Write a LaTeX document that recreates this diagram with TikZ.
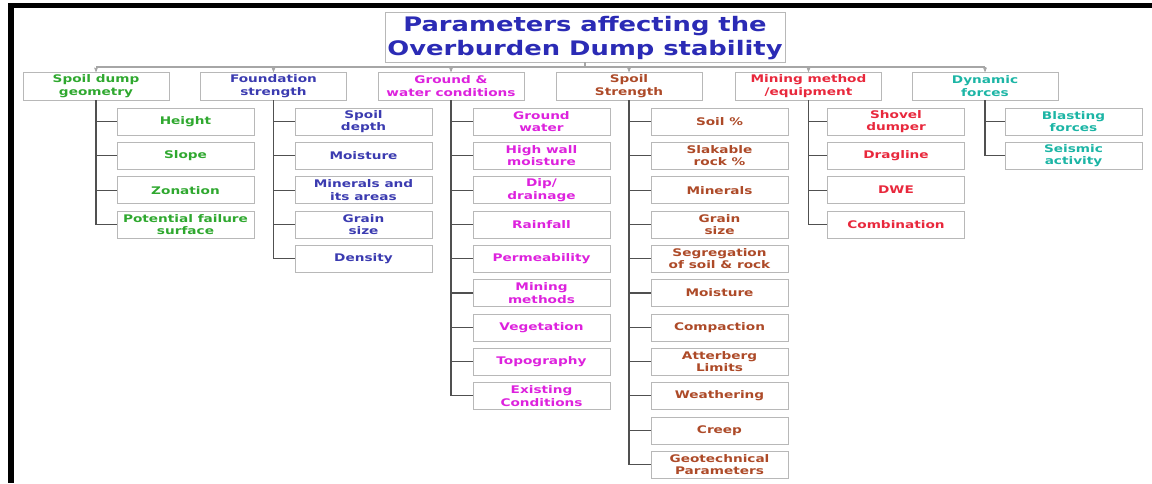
\documentclass[tikz,border=0pt]{standalone}
\usepackage{fontspec}
\usepackage{tikz}
\usetikzlibrary{arrows,positioning,calc}
\newfontfamily\dumpfont[FakeStretch=1.3]{DejaVu Sans}
\newfontfamily\headfont[FakeStretch=1.29]{DejaVu Sans}
\newcommand{\titlefont}{\headfont\bfseries\fontsize{20}{23.5}\selectfont}
\newcommand{\boxfont}{\dumpfont\bfseries\fontsize{10.5}{12.5}\selectfont}
\definecolor{boxgray}{HTML}{B8B8B8}
\definecolor{linkgray}{HTML}{505050}
\definecolor{titleblue}{HTML}{2B2BB5}
\definecolor{geomgreen}{HTML}{2FA82F}
\definecolor{foundblue}{HTML}{3B3BB0}
\definecolor{groundpink}{HTML}{DD22DD}
\definecolor{spoilbrown}{HTML}{AD4A28}
\definecolor{minered}{HTML}{E8283C}
\definecolor{dyncyan}{HTML}{1CB5A5}

\begin{document}
\begin{tikzpicture}[x=1pt, y=-1pt, >=stealth', semithick,
 toptitle/.style={draw=boxgray, thin, minimum width=400pt, minimum height=50pt, inner sep=0pt, align=center, font=\titlefont, text=titleblue},
 groupbox/.style={draw=boxgray, thin, minimum width=146pt, minimum height=28pt, inner sep=0pt, align=center, font=\boxfont},
 itembox/.style={draw=boxgray, thin, minimum width=137pt, minimum height=27pt, inner sep=0pt, align=center, font=\boxfont},
 link/.style={draw=linkgray, line width=1.1pt},
 busline/.style={draw=gray!70, line width=1.2pt}]
\useasboundingbox (0,0) rectangle (1152,483);
% frame
\fill[black] (8,3) rectangle (1152,8);
\fill[black] (8,3) rectangle (14,483);

\node[toptitle] (p) at (585,37) {\rule{0pt}{17pt}Parameters affecting the\\Overburden Dump stability};
\coordinate (bus) at (585,67);

\node[groupbox, text=geomgreen] (g1) at (96,86) {Spoil dump\\geometry};
\node[groupbox, text=foundblue] (g2) at (273.5,86) {Foundation\\strength};
\node[groupbox, text=groundpink] (g3) at (451,86) {Ground \&\\water conditions};
\node[groupbox, text=spoilbrown] (g4) at (629,86) {Spoil\\Strength};
\node[groupbox, text=minered] (g5) at (808.5,86) {Mining method\\/equipment};
\node[groupbox, text=dyncyan] (g6) at (985,86) {Dynamic\\forces};

% spoil dump geometry
\node[itembox, text=geomgreen] (g1_1) at (185.5,121.5) {Height};
\node[itembox, text=geomgreen] (g1_2) at (185.5,155.8) {Slope};
\node[itembox, text=geomgreen] (g1_3) at (185.5,190.1) {Zonation};
\node[itembox, text=geomgreen] (g1_4) at (185.5,224.4) {Potential failure\\surface};

% foundation strength
\node[itembox, text=foundblue] (g2_1) at (363.5,121.5) {Spoil\\depth};
\node[itembox, text=foundblue] (g2_2) at (363.5,155.8) {Moisture};
\node[itembox, text=foundblue] (g2_3) at (363.5,190.1) {Minerals and\\its areas};
\node[itembox, text=foundblue] (g2_4) at (363.5,224.4) {Grain\\size};
\node[itembox, text=foundblue] (g2_5) at (363.5,258.7) {Density};

% ground & water conditions
\node[itembox, text=groundpink] (g3_1) at (541.5,121.5) {Ground\\water};
\node[itembox, text=groundpink] (g3_2) at (541.5,155.8) {High wall\\moisture};
\node[itembox, text=groundpink] (g3_3) at (541.5,190.1) {Dip/\\drainage};
\node[itembox, text=groundpink] (g3_4) at (541.5,224.4) {Rainfall};
\node[itembox, text=groundpink] (g3_5) at (541.5,258.7) {Permeability};
\node[itembox, text=groundpink] (g3_6) at (541.5,293.0) {Mining\\methods};
\node[itembox, text=groundpink] (g3_7) at (541.5,327.3) {Vegetation};
\node[itembox, text=groundpink] (g3_8) at (541.5,361.6) {Topography};
\node[itembox, text=groundpink] (g3_9) at (541.5,395.9) {Existing\\Conditions};

% spoil strength
\node[itembox, text=spoilbrown] (g4_1) at (719.5,121.5) {Soil \%};
\node[itembox, text=spoilbrown] (g4_2) at (719.5,155.8) {Slakable\\rock \%};
\node[itembox, text=spoilbrown] (g4_3) at (719.5,190.1) {Minerals};
\node[itembox, text=spoilbrown] (g4_4) at (719.5,224.4) {Grain\\size};
\node[itembox, text=spoilbrown] (g4_5) at (719.5,258.7) {Segregation\\of soil \& rock};
\node[itembox, text=spoilbrown] (g4_6) at (719.5,293.0) {Moisture};
\node[itembox, text=spoilbrown] (g4_7) at (719.5,327.3) {Compaction};
\node[itembox, text=spoilbrown] (g4_8) at (719.5,361.6) {Atterberg\\Limits};
\node[itembox, text=spoilbrown] (g4_9) at (719.5,395.9) {Weathering};
\node[itembox, text=spoilbrown] (g4_10) at (719.5,430.2) {Creep};
\node[itembox, text=spoilbrown] (g4_11) at (719.5,464.5) {Geotechnical\\Parameters};

% mining method / equipment
\node[itembox, text=minered] (g5_1) at (896,121.5) {Shovel\\dumper};
\node[itembox, text=minered] (g5_2) at (896,155.8) {Dragline};
\node[itembox, text=minered] (g5_3) at (896,190.1) {DWE};
\node[itembox, text=minered] (g5_4) at (896,224.4) {Combination};

% dynamic forces
\node[itembox, text=dyncyan] (g6_1) at (1073.5,121.5) {Blasting\\forces};
\node[itembox, text=dyncyan] (g6_2) at (1073.5,155.8) {Seismic\\activity};

% bus from the title to the groups
\draw[busline] (p.south) -- (bus);
\draw[busline] (g1.north |- bus) -- (g6.north |- bus);
\draw[busline, ->, line width=0.6pt] (g1.north |- bus) -- (g1.north);
\draw[busline, ->, line width=0.6pt] (g2.north |- bus) -- (g2.north);
\draw[busline, ->, line width=0.6pt] (g3.north |- bus) -- (g3.north);
\draw[busline, ->, line width=0.6pt] (g4.north |- bus) -- (g4.north);
\draw[busline, ->, line width=0.6pt] (g5.north |- bus) -- (g5.north);
\draw[busline, ->, line width=0.6pt] (g6.north |- bus) -- (g6.north);

% group to item links
\draw[link] (g1) |- (g1_1);
\draw[link] (g1) |- (g1_2);
\draw[link] (g1) |- (g1_3);
\draw[link] (g1) |- (g1_4);
\draw[link] (g2) |- (g2_1);
\draw[link] (g2) |- (g2_2);
\draw[link] (g2) |- (g2_3);
\draw[link] (g2) |- (g2_4);
\draw[link] (g2) |- (g2_5);
\draw[link] (g3) |- (g3_1);
\draw[link] (g3) |- (g3_2);
\draw[link] (g3) |- (g3_3);
\draw[link] (g3) |- (g3_4);
\draw[link] (g3) |- (g3_5);
\draw[link] (g3) |- (g3_6);
\draw[link] (g3) |- (g3_7);
\draw[link] (g3) |- (g3_8);
\draw[link] (g3) |- (g3_9);
\draw[link] (g4) |- (g4_1);
\draw[link] (g4) |- (g4_2);
\draw[link] (g4) |- (g4_3);
\draw[link] (g4) |- (g4_4);
\draw[link] (g4) |- (g4_5);
\draw[link] (g4) |- (g4_6);
\draw[link] (g4) |- (g4_7);
\draw[link] (g4) |- (g4_8);
\draw[link] (g4) |- (g4_9);
\draw[link] (g4) |- (g4_10);
\draw[link] (g4) |- (g4_11);
\draw[link] (g5) |- (g5_1);
\draw[link] (g5) |- (g5_2);
\draw[link] (g5) |- (g5_3);
\draw[link] (g5) |- (g5_4);
\draw[link] (g6) |- (g6_1);
\draw[link] (g6) |- (g6_2);
\end{tikzpicture}
\end{document}
